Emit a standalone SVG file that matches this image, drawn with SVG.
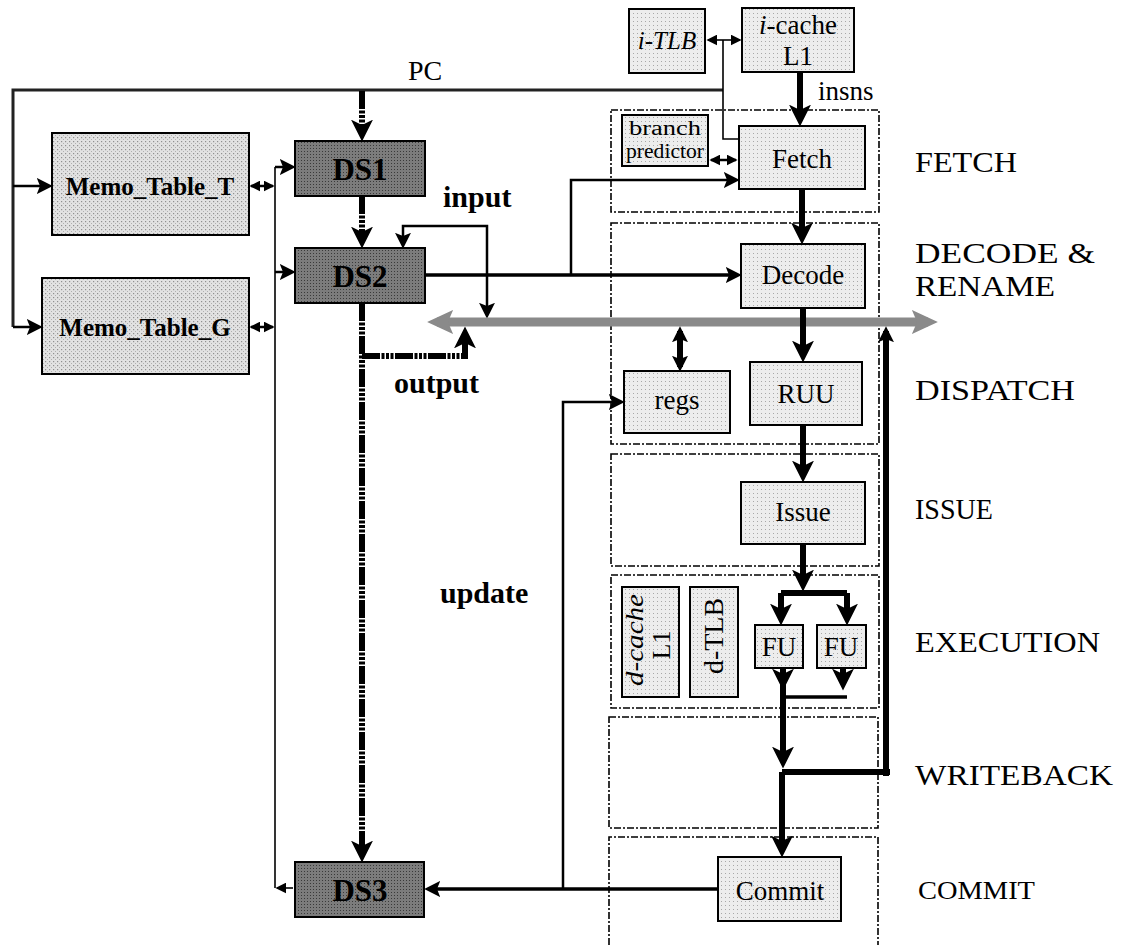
<svg xmlns="http://www.w3.org/2000/svg" width="1123" height="945" viewBox="0 0 1123 945">
<defs>
<style>
text{font-family:"Liberation Serif","Times New Roman",serif;fill:#000}
.box{fill:url(#dotL);stroke:#000;stroke-width:2}
.memo{fill:url(#dotM);stroke:#000;stroke-width:2}
.ds{fill:url(#dotD);stroke:#000;stroke-width:2}
.stage{fill:none;stroke:#000;stroke-width:1.6;stroke-dasharray:7 2 2 2}
.lbl{font-size:29px}
.c{text-anchor:middle}
.b{font-weight:bold}
.i{font-style:italic}
.w1{fill:none;stroke:#000;stroke-width:1.6}
.w2{fill:none;stroke:#000;stroke-width:2.5}
.w3{fill:none;stroke:#000;stroke-width:3.5}
.thick{fill:none;stroke:#000;stroke-width:6}
.striped{fill:none;stroke:#000;stroke-width:6;stroke-dasharray:18 1.5 3 1.5 3 1.5 3 1.5}
.bus{fill:none;stroke:#8a8a8a;stroke-width:9}
</style>
<pattern id="dotL" width="4" height="4" patternUnits="userSpaceOnUse"><rect width="4" height="4" fill="#ededed"/><rect x="1" y="1" width="1" height="1" fill="#a8a8a8"/></pattern>
<pattern id="dotM" width="4" height="4" patternUnits="userSpaceOnUse"><rect width="4" height="4" fill="#e2e2e2"/><rect x="1" y="1" width="1.2" height="1.2" fill="#909090"/><rect x="3" y="3" width="1" height="1" fill="#b0b0b0"/></pattern>
<pattern id="dotD" width="3" height="3" patternUnits="userSpaceOnUse"><rect width="3" height="3" fill="#7c7c7c"/><rect x="1" y="1" width="1" height="1" fill="#3a3a3a"/></pattern>
<marker id="aB" viewBox="0 0 10 10" refX="7" refY="5" markerWidth="22" markerHeight="22" markerUnits="userSpaceOnUse" orient="auto-start-reverse"><path d="M0,0 L10,5 L0,10 L2.5,5 z" fill="#000"/></marker>
<marker id="aM" viewBox="0 0 10 10" refX="7" refY="5" markerWidth="16" markerHeight="16" markerUnits="userSpaceOnUse" orient="auto-start-reverse"><path d="M0,0 L10,5 L0,10 L2,5 z" fill="#000"/></marker>
<marker id="aS" viewBox="0 0 10 10" refX="8.5" refY="5" markerWidth="11" markerHeight="11" markerUnits="userSpaceOnUse" orient="auto-start-reverse"><path d="M0,0 L10,5 L0,10 z" fill="#000"/></marker>
<marker id="aBus" viewBox="0 0 10 10" refX="6.2" refY="5" markerWidth="26" markerHeight="24" markerUnits="userSpaceOnUse" orient="auto-start-reverse" preserveAspectRatio="none"><path d="M0,0 L10,5 L0,10 L2,5 z" fill="#8a8a8a"/></marker>
</defs>
<rect width="1123" height="945" fill="#fff"/>

<g id="stages">
<rect class="stage" x="611" y="110" width="268" height="102"/>
<rect class="stage" x="611" y="223" width="268" height="221"/>
<rect class="stage" x="611" y="454" width="268" height="112"/>
<rect class="stage" x="611" y="575" width="268" height="133"/>
<rect class="stage" x="609" y="717" width="269" height="111"/>
<path class="stage" d="M609,945 V837 H878 V945"/>
</g>

<g id="stage-labels">
<text class="lbl" x="915" y="172" textLength="102" lengthAdjust="spacingAndGlyphs">FETCH</text>
<text class="lbl" x="915" y="263" textLength="180" lengthAdjust="spacingAndGlyphs">DECODE &amp;</text>
<text class="lbl" x="915" y="296" textLength="140" lengthAdjust="spacingAndGlyphs">RENAME</text>
<text class="lbl" x="915" y="400" textLength="160" lengthAdjust="spacingAndGlyphs">DISPATCH</text>
<text class="lbl" x="915" y="519" textLength="78" lengthAdjust="spacingAndGlyphs">ISSUE</text>
<text class="lbl" x="915" y="652" textLength="185" lengthAdjust="spacingAndGlyphs">EXECUTION</text>
<text class="lbl" x="915" y="785" textLength="198" lengthAdjust="spacingAndGlyphs">WRITEBACK</text>
<text x="918" y="899" style="font-size:26px" textLength="117" lengthAdjust="spacingAndGlyphs">COMMIT</text>
</g>

<g id="connectors">
<path d="M723,90 H13 V327" fill="none" stroke="#222" stroke-width="3"/>
<path class="w2" d="M13,186 H48" marker-end="url(#aM)"/>
<path class="w2" d="M13,327 H38" marker-end="url(#aM)"/>
<path class="w1" d="M723,40 V139 H739"/>
<path class="w1" d="M723,40 H708" marker-end="url(#aS)"/>
<path class="w1" d="M723,40 H740" marker-end="url(#aS)"/>
<path class="w2" d="M711,160 H736" marker-start="url(#aS)" marker-end="url(#aS)"/>
<path class="w1" d="M275,167 V888"/>
<path class="w2" d="M275,167 H291" marker-end="url(#aM)"/>
<path class="w2" d="M275,272 H291" marker-end="url(#aM)"/>
<path class="w1" d="M293,888 H277" marker-end="url(#aS)"/>
<path class="w2" d="M251,186 H273" marker-start="url(#aS)" marker-end="url(#aS)"/>
<path class="w2" d="M251,327 H273" marker-start="url(#aS)" marker-end="url(#aS)"/>
<path class="striped" d="M362,91 V135" marker-end="url(#aB)"/>
<path class="striped" d="M362,196 V242" marker-end="url(#aB)"/>
<path class="striped" d="M362,303 V856" marker-end="url(#aB)"/>
<path class="striped" d="M362,356 H465 V333" stroke-width="5" marker-end="url(#aB)"/>
<path class="w3" d="M425,275 H737" marker-end="url(#aM)"/>
<path class="w2" d="M571,275 V180 H735" marker-end="url(#aM)"/>
<path class="w2" d="M487,314 V226 H403 V244" marker-start="url(#aM)" marker-end="url(#aM)"/>
<path class="bus" d="M437,322 H928" marker-start="url(#aBus)" marker-end="url(#aBus)"/>
<path class="thick" d="M800,72 V120" marker-end="url(#aB)"/>
<path class="thick" d="M802,189 V238" marker-end="url(#aB)"/>
<path class="thick" d="M803,308 V356" marker-end="url(#aB)"/>
<path class="thick" d="M803,425 V476" marker-end="url(#aB)"/>
<path class="thick" d="M680,331 V367" stroke-width="5" marker-start="url(#aM)" marker-end="url(#aM)"/>
<path class="thick" d="M803,544 V585" marker-end="url(#aB)"/>
<path class="thick" d="M781,593 H847" stroke-width="5"/>
<path class="thick" d="M781,593 V619" stroke-width="5" marker-end="url(#aB)"/>
<path class="thick" d="M847,593 V619" stroke-width="5" marker-end="url(#aB)"/>
<path class="thick" d="M783,668 V684" stroke-width="5" marker-end="url(#aB)"/>
<path class="thick" d="M843,668 V684" stroke-width="5" marker-end="url(#aB)"/>
<path class="w3" d="M781,697 H847"/>
<path class="thick" d="M783,668 V762" marker-end="url(#aB)"/>
<path class="thick" d="M782,772 H890" stroke-width="9"/>
<path class="thick" d="M782,772 V851" marker-end="url(#aB)"/>
<path class="thick" d="M886,776 V331" stroke-width="4" marker-end="url(#aM)"/>
<path class="w3" d="M718,889 H429" marker-end="url(#aM)"/>
<path class="w2" d="M563,889 V402 H620" marker-end="url(#aM)"/>
</g>

<g id="node-itlb"><rect class="box" x="629" y="9" width="76" height="64"/><text class="c i" x="667" y="49" style="font-size:25px">i-TLB</text></g>
<g id="node-icache"><rect class="box" x="742" y="8" width="112" height="64"/><text class="c" x="798" y="34" style="font-size:27px"><tspan class="i">i</tspan>-cache</text><text class="c" x="798" y="65" style="font-size:27px">L1</text></g>
<g id="node-bp"><rect class="box" x="622" y="115" width="86" height="51"/><text class="c" x="665" y="135" style="font-size:20px" textLength="72" lengthAdjust="spacingAndGlyphs">branch</text><text class="c" x="665" y="158" style="font-size:20px" textLength="78" lengthAdjust="spacingAndGlyphs">predictor</text></g>
<g id="node-fetch"><rect class="box" x="739" y="126" width="126" height="63"/><text class="c" x="802" y="168" style="font-size:27px">Fetch</text></g>
<g id="node-decode"><rect class="box" x="741" y="244" width="124" height="64"/><text class="c" x="803" y="284" style="font-size:27px">Decode</text></g>
<g id="node-regs"><rect class="box" x="624" y="371" width="106" height="62"/><text class="c" x="677" y="409" style="font-size:27px">regs</text></g>
<g id="node-ruu"><rect class="box" x="750" y="362" width="112" height="63"/><text class="c" x="806" y="403" style="font-size:27px">RUU</text></g>
<g id="node-issue"><rect class="box" x="741" y="482" width="124" height="62"/><text class="c" x="803" y="521" style="font-size:27px">Issue</text></g>
<g id="node-dcache"><rect class="box" x="622" y="587" width="57" height="110"/><g transform="translate(650,640) rotate(-90)"><text class="c i" x="0" y="-7" style="font-size:26px" textLength="92" lengthAdjust="spacingAndGlyphs">d-cache</text><text class="c" x="-5" y="20" style="font-size:26px">L1</text></g></g>
<g id="node-dtlb"><rect class="box" x="690" y="587" width="48" height="110"/><text class="c" transform="translate(723,636) rotate(-90)" x="0" y="0" style="font-size:28px">d-TLB</text></g>
<g id="node-fu1"><rect class="box" x="755" y="625" width="48" height="43"/><text class="c" x="779" y="656" style="font-size:27px">FU</text></g>
<g id="node-fu2"><rect class="box" x="817" y="625" width="49" height="43"/><text class="c" x="841" y="656" style="font-size:27px">FU</text></g>
<g id="node-commit"><rect class="box" x="718" y="857" width="123" height="64"/><text class="c" x="780" y="900" style="font-size:27px">Commit</text></g>
<g id="node-memo-t"><rect class="memo" x="52" y="133" width="197" height="102"/><text class="c b" x="150" y="195" style="font-size:25px">Memo_Table_T</text></g>
<g id="node-memo-g"><rect class="memo" x="42" y="278" width="207" height="96"/><text class="c b" x="145" y="336" style="font-size:25px">Memo_Table_G</text></g>
<g id="node-ds1"><rect class="ds" x="295" y="141" width="130" height="55"/><text class="c b" x="360" y="180" style="font-size:31px">DS1</text></g>
<g id="node-ds2"><rect class="ds" x="295" y="248" width="130" height="55"/><text class="c b" x="360" y="287" style="font-size:31px">DS2</text></g>
<g id="node-ds3"><rect class="ds" x="295" y="862" width="129" height="55"/><text class="c b" x="360" y="901" style="font-size:31px">DS3</text></g>

<g id="labels">
<text x="408" y="80" style="font-size:28px">PC</text>
<text x="818" y="100" style="font-size:27px">insns</text>
<text class="b" x="443" y="207" style="font-size:30px">input</text>
<text class="b" x="394" y="393" style="font-size:30px">output</text>
<text class="b" x="440" y="603" style="font-size:30px">update</text>
</g>
</svg>
